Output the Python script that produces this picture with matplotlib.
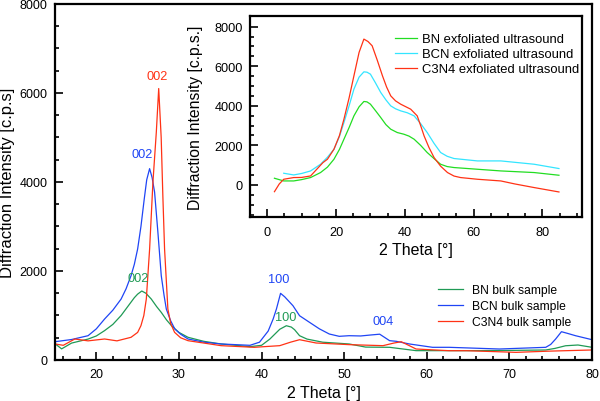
import matplotlib
matplotlib.use("Agg")
import matplotlib.pyplot as plt

plt.rcParams['font.family'] = ['Liberation Sans', 'DejaVu Sans']

# main chart: bulk samples
bn_bulk_x = [15.0, 15.8, 17.0, 19.0, 20.0, 21.0, 22.0, 23.0, 23.6, 24.2, 24.6, 25.0, 25.5, 26.0,
             26.65, 27.3, 27.86, 28.5, 29.1, 30.0, 31.1, 33.0, 35.1, 38.6, 40.0, 41.0, 41.6,
             42.2, 43.0, 43.6, 44.0, 44.6, 45.5, 47.4, 50.6, 52.6, 55.5, 58.7, 60.7, 65.0, 70.0,
             74.4, 75.5, 76.8, 78.3, 80.0]
bn_bulk_y = [366, 250, 380, 470, 540, 660, 800, 1000, 1150, 1300, 1400, 1480, 1550, 1500,
             1370, 1200, 1070, 900, 770, 620, 510, 420, 360, 300, 330, 470, 580,
             690, 770, 740, 680, 546, 470, 400, 360, 290, 285, 210, 210, 210, 215,
             225, 260, 320, 337, 285]

bcn_bulk_x = [15.0, 17.0, 19.0, 20.0, 21.0, 22.0, 23.0, 23.6, 24.2, 24.6, 25.0, 25.4, 25.8, 26.1,
              26.45, 26.75, 27.05, 27.45, 27.86, 28.2, 28.47, 29.0, 29.5, 30.2, 31.1, 33.0, 35.1,
              38.6, 39.75, 40.8, 41.4, 41.8, 42.3, 42.8, 43.3, 43.8, 44.6, 45.8, 47.0, 48.2, 49.4,
              50.6, 52.0, 53.1, 54.3, 55.5, 56.3, 57.9, 60.7, 62.7, 68.8, 74.4, 75.0, 75.6, 76.3,
              77.0, 78.0, 80.0]
bcn_bulk_y = [411, 460, 546, 700, 921, 1120, 1370, 1600, 1894, 2150, 2494, 3000, 3618, 4050,
              4300, 4100, 3775, 2876, 1894, 1450, 1146, 880, 697, 580, 472, 400, 360,
              330, 400, 650, 920, 1146, 1498, 1420, 1320, 1220, 995, 847, 700, 584, 532,
              546, 540, 560, 580, 434, 420, 360, 285, 285, 247, 285, 350, 472, 636,
              600, 546, 456]

c3n4_bulk_x = [15.0, 16.0, 17.4, 19.0, 21.0, 22.5, 24.2, 25.0, 25.4, 25.75, 26.05, 26.45, 26.85,
               27.26, 27.55, 27.85, 28.05, 28.26, 28.66, 29.0, 29.47, 30.2, 31.1, 35.1, 39.1, 42.2,
               43.5, 44.6, 46.6, 50.6, 54.7, 56.0, 56.9, 57.8, 58.7, 62.7, 64.8, 70.8, 75.0, 80.0]
c3n4_bulk_y = [360, 330, 472, 430, 472, 430, 510, 620, 771, 1000, 1370, 2494, 3993,
               5117, 6100, 5000, 3700, 2494, 1146, 820, 622, 500, 434, 322, 285, 322,
               400, 456, 382, 345, 322, 380, 411, 330, 247, 209, 209, 172, 200, 225]

# inset: exfoliated ultrasound samples
bn_exf_x = [2.1, 4.8, 7.7, 10.0, 12.6, 15.5, 17.5, 19.4, 21.0, 22.3, 23.8, 25.2, 26.7, 28.1, 29.0,
            30.0, 31.5, 33.0, 34.5, 35.9, 37.8, 39.7, 41.2, 42.7, 44.6, 46.5, 48.5, 50.4, 52.3,
            54.3, 61.1, 67.9, 77.6, 84.8]
bn_exf_y = [339, 203, 203, 270, 374, 627, 900, 1300, 1800, 2312, 2900, 3492, 3950, 4220, 4200,
            4083, 3750, 3408, 3050, 2818, 2650, 2566, 2470, 2312, 2000, 1640, 1330, 1047, 930,
            880, 794, 709, 627, 491]

bcn_exf_x = [4.8, 7.7, 10.0, 12.6, 15.5, 17.5, 19.4, 21.0, 22.3, 23.8, 25.2, 26.7, 28.1, 29.0,
             30.0, 31.5, 33.0, 34.5, 35.9, 37.3, 38.8, 40.7, 42.7, 44.6, 46.5, 48.5, 50.4, 52.3,
             54.3, 61.1, 67.9, 77.6, 84.8]
bcn_exf_y = [592, 506, 580, 708, 1047, 1400, 1806, 2450, 3155, 4000, 4841, 5450, 5718, 5700,
             5600, 5150, 4673, 4300, 3998, 3850, 3745, 3650, 3492, 3100, 2651, 2100, 1640, 1450,
             1336, 1215, 1215, 1047, 830]

c3n4_exf_x = [2.1, 3.5, 4.8, 7.7, 10.0, 12.6, 15.5, 16.2, 17.5, 19.4, 21.0, 22.3, 23.8, 25.2, 26.7,
              28.1, 29.3, 30.5, 32.0, 33.5, 34.7, 35.9, 37.3, 38.8, 41.7, 43.6, 44.6, 45.6, 47.0,
              48.5, 50.4, 52.4, 54.3, 56.2, 61.1, 67.9, 72.0, 77.6, 84.8]
c3n4_exf_y = [-340, 50, 288, 374, 380, 455, 1000, 1130, 1300, 1806, 2500, 3324, 4400, 5516, 6700,
              7373, 7250, 7035, 6300, 5516, 4950, 4504, 4250, 4083, 3830, 3492, 3000, 2479, 1900,
              1385, 950, 627, 450, 374, 288, 203, 50, -132, -354]

# peak labels: (x, y, text, series)
peak_labels = [(27.4, 6390, '002', 'c3n4'), (25.5, 4630, '002', 'bcn'), (25.1, 1840, '002', 'bn'),
               (42.05, 1820, '100', 'bcn'), (42.9, 975, '100', 'bn'), (54.75, 870, '004', 'bcn')]

bulk_colors = {'bn': '#1f9a55', 'bcn': '#1f45f5', 'c3n4': '#ff3215'}
exf_colors = {'bn': '#22dd22', 'bcn': '#33e5ff', 'c3n4': '#ff3215'}

fig = plt.figure(figsize=(6, 4.02), dpi=100)
ax = fig.add_axes([0.0917, 0.102, 0.895, 0.8856])

ax.plot(bn_bulk_x, bn_bulk_y, color=bulk_colors['bn'], lw=0.9, label='BN bulk sample')
ax.plot(bcn_bulk_x, bcn_bulk_y, color=bulk_colors['bcn'], lw=0.9, label='BCN bulk sample')
ax.plot(c3n4_bulk_x, c3n4_bulk_y, color=bulk_colors['c3n4'], lw=0.9, label='C3N4 bulk sample')

for x, y, t, s in peak_labels:
    ax.text(x, y, t, color=bulk_colors[s], fontsize=9.2, ha='center', va='center')

ax.set_xlim(15, 80)
ax.set_ylim(0, 8000)
ax.set_xticks(range(20, 81, 10))
ax.set_xticks(range(16, 81, 2), minor=True)
ax.set_yticks(range(0, 8001, 2000))
ax.set_yticks(range(0, 8001, 500), minor=True)
ax.tick_params(which='both', direction='in', width=1.2, top=False, right=False)
ax.tick_params(which='major', length=6, labelsize=9, pad=5.5)
ax.tick_params(which='minor', length=3)
for sp in ax.spines.values():
    sp.set_linewidth(1.6)
ax.set_xlabel('2 Theta [°]', fontsize=11.5, labelpad=4)
ax.set_ylabel('Diffraction Intensity [c.p.s]', fontsize=12, labelpad=3)

ax.legend(loc='upper left', bbox_to_anchor=(0.7295, 0.29), bbox_transform=fig.transFigure,
          frameon=False, fontsize=8.7, handlelength=2.1, handletextpad=0.74,
          labelspacing=0.33, borderpad=0, borderaxespad=0)

# inset
axi = fig.add_axes([0.4167, 0.4577, 0.5533, 0.5])
axi.plot(bn_exf_x, bn_exf_y, color=exf_colors['bn'], lw=0.9, label='BN exfoliated ultrasound')
axi.plot(bcn_exf_x, bcn_exf_y, color=exf_colors['bcn'], lw=0.9, label='BCN exfoliated ultrasound')
axi.plot(c3n4_exf_x, c3n4_exf_y, color=exf_colors['c3n4'], lw=0.9, label='C3N4 exfoliated ultrasound')
axi.set_xlim(-5, 91.5)
axi.set_ylim(-1620, 8540)
axi.set_xticks(range(0, 81, 20))
axi.set_xticks(range(-5, 91, 5), minor=True)
axi.set_yticks(range(0, 8001, 2000))
axi.set_yticks(range(-1500, 8001, 500), minor=True)
axi.tick_params(which='both', direction='in', width=1.2, top=False, right=False)
axi.tick_params(which='major', length=6, labelsize=9.2, pad=5)
axi.tick_params(axis='x', which='major', pad=6.5)
axi.tick_params(which='minor', length=3)
for sp in axi.spines.values():
    sp.set_linewidth(1.6)
axi.set_xlabel('2 Theta [°]', fontsize=11.5, labelpad=3)
axi.set_ylabel('Diffraction Intensity [c.p.s.]', fontsize=11.3, labelpad=8)
axi.legend(loc='upper left', bbox_to_anchor=(0.658, 0.915), bbox_transform=fig.transFigure,
           frameon=False, fontsize=9.4, handlelength=1.68, handletextpad=0.39,
           labelspacing=0.22, borderpad=0, borderaxespad=0)

fig.savefig('out.png', dpi=100)
